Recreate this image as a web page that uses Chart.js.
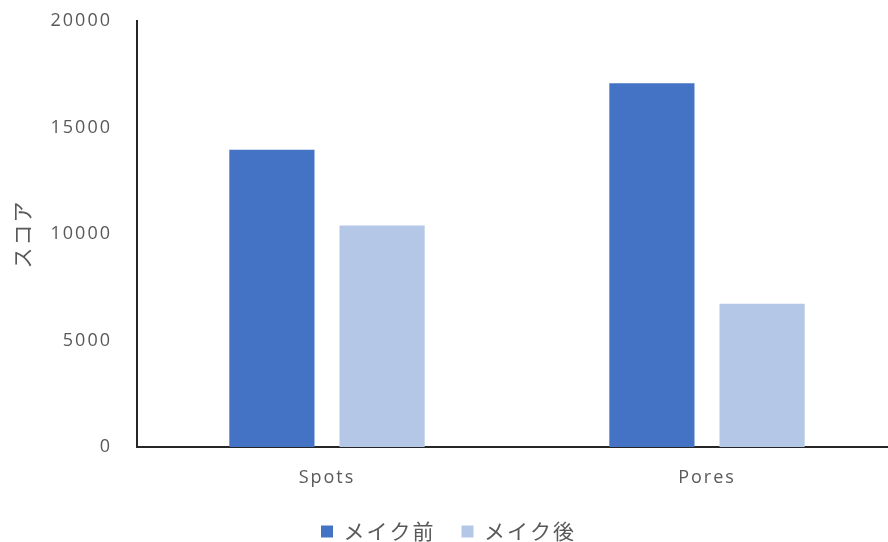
<!DOCTYPE html>
<html lang="ja">
<head>
<meta charset="utf-8">
<title>スコア</title>
<script src="https://cdn.jsdelivr.net/npm/chart.js@4.4.1/dist/chart.umd.min.js"></script>
<style>
    html, body { margin: 0; padding: 0; background: #fff; overflow: hidden; }
    #wrap { position: absolute; left: 0; top: 0; width: 900px; height: 552px; }
</style>
</head>
<body>
<div id="wrap"><canvas id="scoreChart"></canvas></div>
<script>
// Données du graphique
const categories = ['Spots', 'Pores'];
const seriesLabels = ['メイク前', 'メイク後'];
const beforeMakeup = [13950, 17080];
const afterMakeup = [10400, 6730];
const yTicks = [0, 5000, 10000, 15000, 20000];

const textColor = '#595959';
const axisColor = '#262626';

// espacement des lettres, remis après chaque redimensionnement du canvas
const letterSpacingPlugin = {
    id: 'letterSpacing',
    beforeLayout(chart) { chart.ctx.letterSpacing = '2px'; },
    beforeDraw(chart) { chart.ctx.letterSpacing = '2px'; }
};

const ctx = document.getElementById('scoreChart').getContext('2d');
new Chart(ctx, {
    type: 'bar',
    data: {
        labels: categories,
        datasets: [
            {
                label: seriesLabels[0],
                data: beforeMakeup,
                backgroundColor: '#4472C4',
                categoryPercentage: 0.58,
                barPercentage: 0.773
            },
            {
                label: seriesLabels[1],
                data: afterMakeup,
                backgroundColor: '#B4C7E7',
                categoryPercentage: 0.58,
                barPercentage: 0.773
            }
        ]
    },
    options: {
        responsive: true,
        maintainAspectRatio: false,
        animation: false,
        layout: { padding: { top: 21, right: 3, left: 0, bottom: 0 } },
        scales: {
            x: {
                grid: { display: false },
                border: { display: true, color: axisColor, width: 2 },
                ticks: {
                    color: textColor,
                    font: { family: '"Open Sans", sans-serif', size: 18 },
                    padding: 12
                },
                afterFit(scale) { scale.height = 48; }
            },
            y: {
                min: 0,
                max: 20000,
                grid: { display: false },
                border: { display: true, color: axisColor, width: 2 },
                afterBuildTicks(scale) {
                    scale.ticks = yTicks.map(v => ({ value: v }));
                },
                ticks: {
                    color: textColor,
                    font: { family: '"Open Sans", sans-serif', size: 18 },
                    padding: 17,
                    callback: (value) => String(value)
                },
                title: {
                    display: true,
                    text: 'スコア',
                    color: textColor,
                    font: { family: '"Noto Sans CJK JP", sans-serif', size: 21 },
                    padding: { top: 9, bottom: 0 }
                },
                afterFit(scale) {
                    scale.width = 137;
                    scale.paddingTop = 0;
                    scale.paddingBottom = 0;
                }
            }
        },
        plugins: {
            legend: {
                position: 'bottom',
                labels: {
                    color: textColor,
                    font: { family: '"Noto Sans CJK JP", sans-serif', size: 21 },
                    boxWidth: 12,
                    boxHeight: 12,
                    padding: 26
                }
            },
            tooltip: { enabled: false }
        }
    },
    plugins: [letterSpacingPlugin]
});
</script>
</body>
</html>
